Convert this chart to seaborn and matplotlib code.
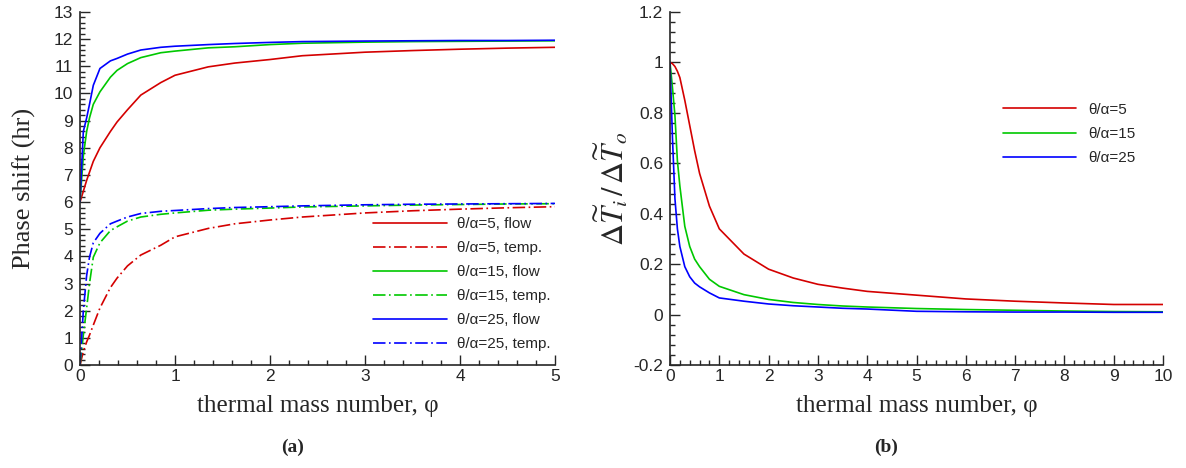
import numpy as np
import pandas as pd
import matplotlib
matplotlib.use("Agg")
import matplotlib.pyplot as plt
from matplotlib.ticker import MultipleLocator, FormatStrFormatter
import seaborn as sns

# ---- data ----
# (a) phase shift vs thermal mass number
phi_a = [0, 0.035, 0.07, 0.1, 0.14, 0.21, 0.32, 0.39, 0.5, 0.64, 0.85, 1.0, 1.35, 1.63, 2.0, 2.34, 3.0, 3.5, 4.0, 4.5, 5.0]
flow_5 = [6.0, 6.4, 6.8, 7.1, 7.5, 8.0, 8.6, 8.95, 9.4, 9.94, 10.4, 10.67, 10.98, 11.12, 11.25, 11.39, 11.52, 11.58, 11.63, 11.67, 11.7]
flow_15 = [6.0, 7.7, 8.6, 9.1, 9.6, 10.06, 10.6, 10.85, 11.1, 11.32, 11.5, 11.56, 11.68, 11.72, 11.8, 11.85, 11.89, 11.91, 11.92, 11.93, 11.94]
flow_25 = [6.0, 8.6, 9.1, 9.6, 10.3, 10.92, 11.2, 11.29, 11.45, 11.6, 11.7, 11.74, 11.8, 11.84, 11.88, 11.91, 11.93, 11.94, 11.95, 11.95, 11.96]
temp_5 = [0.0, 0.5, 0.85, 1.1, 1.47, 2.1, 2.85, 3.2, 3.65, 4.05, 4.41, 4.72, 5.03, 5.2, 5.34, 5.45, 5.6, 5.68, 5.74, 5.79, 5.83]
temp_15 = [0.0, 1.1, 2.1, 3.0, 3.97, 4.5, 4.95, 5.09, 5.3, 5.45, 5.55, 5.6, 5.7, 5.74, 5.78, 5.82, 5.86, 5.89, 5.91, 5.93, 5.94]
temp_25 = [0.0, 2.0, 3.3, 3.97, 4.5, 4.85, 5.2, 5.3, 5.45, 5.58, 5.66, 5.69, 5.76, 5.8, 5.83, 5.86, 5.9, 5.92, 5.93, 5.94, 5.95]

# (b) amplitude ratio vs thermal mass number
phi_b = [0, 0.05, 0.1, 0.15, 0.2, 0.3, 0.4, 0.5, 0.6, 0.8, 1.0, 1.5, 2.0, 2.5, 3.0, 3.5, 4.0, 5.0, 6.0, 7.0, 8.0, 9.0, 10.0]
ratio_5 = [1.0, 0.995, 0.984, 0.965, 0.94, 0.85, 0.75, 0.65, 0.56, 0.43, 0.34, 0.24, 0.18, 0.145, 0.12, 0.105, 0.092, 0.077, 0.062, 0.053, 0.046, 0.04, 0.04]
ratio_15 = [1.0, 0.9, 0.79, 0.61, 0.51, 0.35, 0.27, 0.22, 0.19, 0.14, 0.112, 0.079, 0.06, 0.048, 0.04, 0.034, 0.03, 0.024, 0.02, 0.017, 0.014, 0.012, 0.011]
ratio_25 = [1.0, 0.7, 0.46, 0.34, 0.27, 0.19, 0.15, 0.125, 0.11, 0.086, 0.066, 0.053, 0.042, 0.035, 0.03, 0.025, 0.022, 0.013, 0.011, 0.01, 0.01, 0.009, 0.009]

labels_a = ["θ/α=5, flow", "θ/α=5, temp.", "θ/α=15, flow", "θ/α=15, temp.",
            "θ/α=25, flow", "θ/α=25, temp."]
labels_b = ["θ/α=5", "θ/α=15", "θ/α=25"]

red, green, blue = "#d40000", "#00c800", "#0000ff"
dashdot = (0, (9, 2.5, 1.2, 2.5))

sns.set_style("ticks")
plt.rcParams["font.family"] = ["Liberation Sans", "DejaVu Sans"]
plt.rcParams["mathtext.fontset"] = "stix"
plt.rcParams["lines.scale_dashes"] = False

fig = plt.figure(figsize=(11.86, 4.68), dpi=100)
ax1 = fig.add_axes([80 / 1186, 1 - 365 / 468, 475 / 1186, 353 / 468])
ax2 = fig.add_axes([670 / 1186, 1 - 365 / 468, 493 / 1186, 353 / 468])

series_a = [(flow_5, red, "-"), (temp_5, red, dashdot),
            (flow_15, green, "-"), (temp_15, green, dashdot),
            (flow_25, blue, "-"), (temp_25, blue, dashdot)]
for (y, c, ls), lab in zip(series_a, labels_a):
    sns.lineplot(x=phi_a, y=y, ax=ax1, color=c, linestyle=ls, lw=1.2, label=lab)

for y, c, lab in zip([ratio_5, ratio_15, ratio_25], [red, green, blue], labels_b):
    sns.lineplot(x=phi_b, y=y, ax=ax2, color=c, lw=1.2, label=lab)

serif = ["Liberation Serif", "DejaVu Serif"]

ax1.set_xlim(0, 5)
ax1.set_ylim(0, 13)
ax1.xaxis.set_major_locator(MultipleLocator(1))
ax1.xaxis.set_minor_locator(MultipleLocator(0.2))
ax1.yaxis.set_major_locator(MultipleLocator(1))
ax1.yaxis.set_minor_locator(MultipleLocator(0.2))
ax1.set_xlabel("thermal mass number, φ", family=serif, fontsize=18, labelpad=8)
ax1.set_ylabel("Phase shift (hr)", family=serif, fontsize=19, labelpad=13)

ax2.set_xlim(0, 10)
ax2.set_ylim(-0.2, 1.2)
ax2.xaxis.set_major_locator(MultipleLocator(1))
ax2.xaxis.set_minor_locator(MultipleLocator(0.2))
ax2.yaxis.set_major_locator(MultipleLocator(0.2))
ax2.yaxis.set_minor_locator(MultipleLocator(0.04))
ax2.yaxis.set_major_formatter(FormatStrFormatter("%g"))
ax2.set_xlabel("thermal mass number, φ", family=serif, fontsize=18, labelpad=8)
ax2.set_ylabel(r"$\Delta\widetilde{T}_i\,/\,\Delta\widetilde{T}_o$", fontsize=22, labelpad=2)

for ax in (ax1, ax2):
    sns.despine(ax=ax)
    ax.tick_params(which="both", direction="in", labelsize=12.5, width=1)
    ax.tick_params(axis="y", pad=5)
    ax.tick_params(axis="x", pad=3)
    ax.tick_params(which="major", length=7)
    ax.tick_params(which="minor", length=3.5)
    for s in ("left", "bottom"):
        ax.spines[s].set_linewidth(1.2)

ax1.legend(loc="upper left", bbox_to_anchor=(0.60, 0.44), frameon=False,
           fontsize=11, handlelength=4.85, labelspacing=0.65, handletextpad=0.7,
           borderpad=0)
ax2.legend(loc="upper left", bbox_to_anchor=(0.66, 0.765), frameon=False,
           fontsize=11, handlelength=4.8, labelspacing=0.68, handletextpad=0.75,
           borderpad=0)

fig.text(293 / 1186, 1 - 447 / 468, "(a)", family=serif, weight="bold",
         fontsize=14, ha="center", va="center")
fig.text(886 / 1186, 1 - 447 / 468, "(b)", family=serif, weight="bold",
         fontsize=14, ha="center", va="center")

fig.savefig("out.png", dpi=100)
